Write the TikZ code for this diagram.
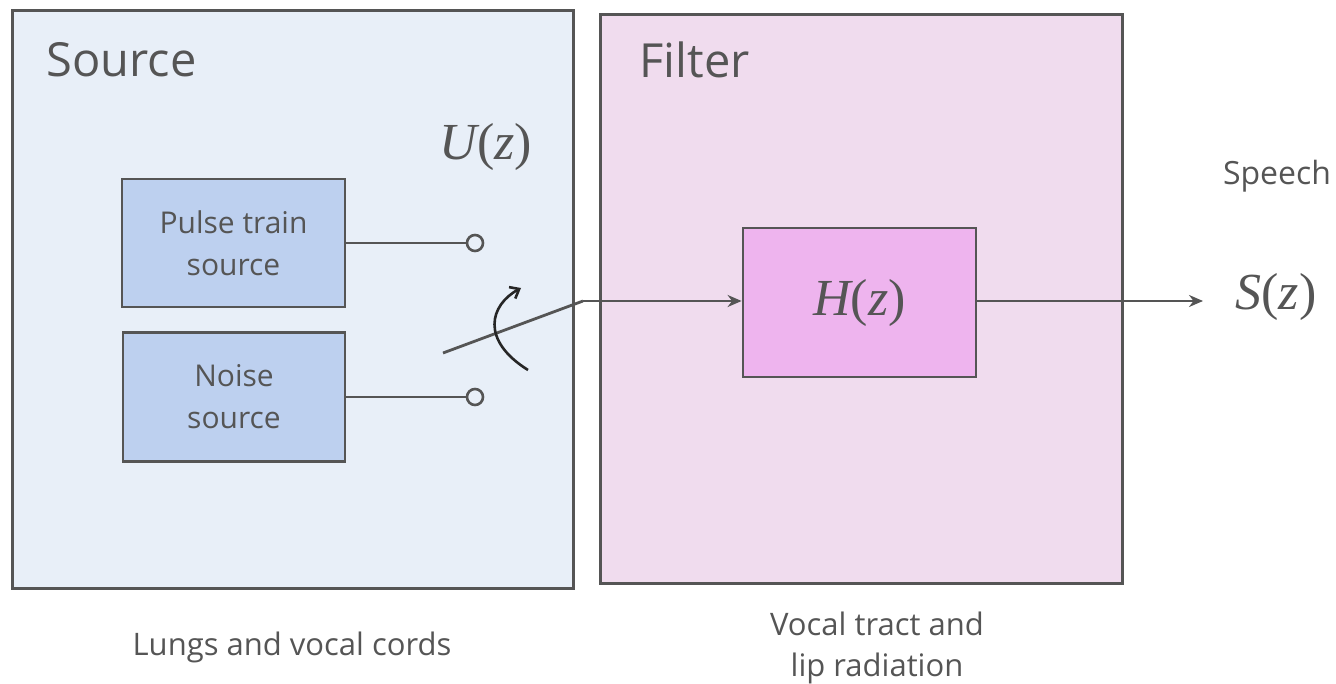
\documentclass[tikz,border=0pt]{standalone}
\usepackage{fontspec}
\setmainfont{Open Sans}
\newfontface\serifup{Liberation Serif}
\newfontface\serifit{Liberation Serif Italic}
\usetikzlibrary{arrows.meta}
\definecolor{edge}{HTML}{555555}
\definecolor{srcbg}{HTML}{E8EFF8}
\definecolor{fltbg}{HTML}{F0DCEE}
\definecolor{blockblue}{HTML}{BDD0EF}
\definecolor{blockpink}{HTML}{EEB4EE}
\newcommand{\tfun}[2]{{\serifit #1}{\serifup(}{\serifit #2}{\serifup)}}
\tikzset{
  panel/.style={draw=edge, line width=2.6pt, anchor=north west, inner sep=0pt},
  block/.style={draw=edge, line width=2.8pt, fill=blockblue, inner sep=0pt, align=center,
    font=\fontsize{30}{42}\selectfont, text=edge},
  wire/.style={draw=edge, line width=2.8pt},
  terminal/.style={circle, draw=edge, line width=2.6pt, fill=srcbg, minimum size=16pt, inner sep=0pt},
  title/.style={font=\fontsize{47}{50}\selectfont, text=edge, anchor=west},
  caption/.style={font=\fontsize{31}{41}\selectfont, text=edge, align=center},
  mathlbl/.style={font=\fontsize{52}{56}\selectfont, text=edge},
}
\begin{document}
\begin{tikzpicture}[x=1pt, y=-1pt]
\useasboundingbox (0,0) rectangle (1336,684);
% panels
\node[panel, fill=srcbg, minimum width=561pt, minimum height=578pt] (srcpanel) at (11,9) {};
\node[panel, fill=fltbg, minimum width=522pt, minimum height=569pt] (fltpanel) at (599,13) {};
\node[title] (srctitle) at (43,60) {Source};
\node[title] (flttitle) at (636,60) {Filter};
% source blocks
\node[block, minimum width=223pt, minimum height=128pt] (pulse) at (233.5,243) {Pulse train\\source};
\node[block, minimum width=222pt, minimum height=129pt] (noise) at (234,397) {Noise\\source};
% switch terminals
\node[terminal] (tpulse) at (475,243) {};
\node[terminal] (tnoise) at (475,397) {};
\draw[wire] (pulse.east) -- (tpulse.west);
\draw[wire] (noise.east) -- (tnoise.west);
% filter block
\node[block, fill=blockpink, minimum width=233pt, minimum height=149pt, font=\fontsize{52}{56}\selectfont] (hz) at (859.5,302.5) {\tfun{H}{z}};
% switch arm and signal path
\coordinate (armfree) at (443,353);
\coordinate (armpivot) at (583,301);
\draw[wire] (armfree) -- (armpivot);
\draw[wire, -{Stealth[length=14pt, width=12pt]}] (armpivot) -- (armpivot -| hz.west);
\coordinate (outend) at (1203,301);
\draw[wire, -{Stealth[length=14pt, width=12pt]}] (hz.east |- outend) -- (outend);
% switching arrow
\coordinate (swA) at (528,370);
\coordinate (swB) at (521,288);
\draw[black!85, line width=2.6pt, -{Straight Barb[length=8pt, width=13pt]}] (swA) .. controls (480,340) and (490,305) .. (swB);
% labels
\node[mathlbl] (uz) at (486,147) {\tfun{U}{z}};
\node[mathlbl] (sz) at (1276,297) {\tfun{S}{z}};
\node[caption, font=\fontsize{32}{41}\selectfont] (speech) at (1277,176) {Speech};
\node[caption] (lungs) at (292,647) {Lungs and vocal cords};
\node[caption] (tract) at (877,648) {Vocal tract and\\lip radiation};
\end{tikzpicture}
\end{document}
